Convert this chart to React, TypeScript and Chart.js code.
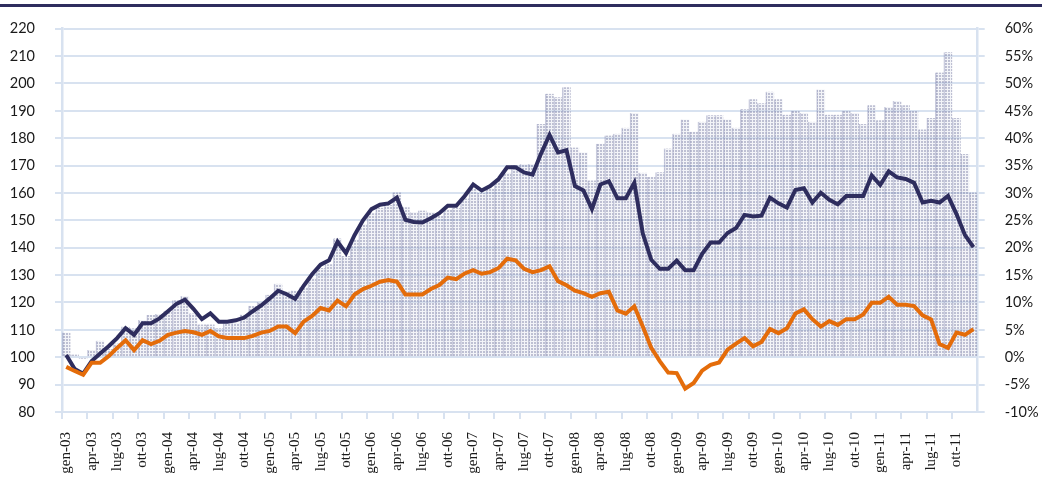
import React, { useEffect, useRef } from "react";
import { Chart, registerables } from "chart.js";

Chart.register(...registerables);

const MONTHS = ["gen", "feb", "mar", "apr", "mag", "giu", "lug", "ago", "set", "ott", "nov", "dic"];
const YEARS = ["03", "04", "05", "06", "07", "08", "09", "10", "11"];
const categories: string[] = YEARS.flatMap((y) => MONTHS.map((m) => `${m}-${y}`));

// Left axis (index) – dark line
const darkSeries = [
  100.8, 95.7, 94, 98.6, 101.4, 104, 107, 110.6, 108.2, 112.4, 112.4, 114.2,
  116.8, 119.5, 121, 117.7, 113.9, 116, 113, 113, 113.5, 114.5, 116.8, 118.9,
  121.5, 124.3, 123, 121.3, 126.1, 130.3, 133.8, 135.4, 142.2, 138, 144.6, 150,
  154.1, 155.7, 156.2, 158.3, 150.2, 149.4, 149.2, 150.8, 152.6, 155.3, 155.3, 158.9,
  163.1, 160.9, 162.5, 165.1, 169.4, 169.4, 167.5, 166.7, 174.4, 181.2, 174.8, 175.6,
  162.5, 160.9, 154.1, 163.1, 164.3, 158.1, 158.1, 163.7, 145.2, 135.6, 132.3, 132.3,
  135.3, 131.8, 131.8, 137.8, 141.9, 141.9, 145.4, 147.2, 152, 151.4, 151.7, 158.3,
  156.2, 154.7, 161.1, 161.7, 156.5, 160.1, 157.5, 155.9, 158.9, 158.9, 158.9, 166.4,
  162.9, 167.9, 165.7, 165.1, 163.7, 156.5, 157.1, 156.5, 158.9, 152.3, 144.6, 140.2,
];

// Left axis (index) – orange line
const orangeSeries = [
  96.5, 95, 93.6, 98, 98, 100.4, 103.4, 106.2, 102.6, 106.2, 104.8, 106,
  108.2, 109, 109.6, 109.1, 108.2, 109.6, 107.6, 107, 107, 107, 107.8, 109,
  109.6, 111.2, 111.2, 108.8, 113, 115.1, 118, 117.1, 120.7, 118.6, 122.9, 124.9,
  126.1, 127.6, 128.2, 127.6, 122.9, 122.9, 122.9, 124.9, 126.4, 129.1, 128.5, 130.6,
  131.8, 130.5, 131.1, 132.6, 136, 135.4, 132.3, 131.1, 131.8, 133.2, 127.8, 126.3,
  124.3, 123.4, 122.1, 123.4, 123.9, 117.1, 115.9, 118.6, 111.2, 103.4, 98.6, 94.4,
  94.2, 88.5, 90.6, 95.1, 97.2, 98.1, 102.8, 105, 107, 104, 105.6, 110.3,
  108.8, 110.6, 116, 117.5, 113.9, 111.2, 113.2, 111.8, 113.9, 113.9, 115.6, 119.9,
  119.9, 122.1, 119.2, 119.2, 118.7, 115.3, 113.8, 104.8, 103.4, 109, 108.2, 110.3,
];

// Right axis (%) – hatched bars
const barSeries = [
  4.5, 0.5, -0.3, 1.3, 3.0, 1.5, 2.5, 5.6, 5.3, 6.8, 7.7, 7.9,
  8.5, 10.4, 11.2, 8.0, 6.0, 6.0, 5.3, 6.2, 6.3, 7.8, 9.4, 10.1,
  11.4, 13.4, 12.0, 12.2, 12.8, 14.5, 16.3, 17.0, 21.7, 18.5, 21.5, 24.3,
  26.3, 27.3, 27.8, 30.1, 27.4, 26.5, 26.8, 26.5, 25.8, 27.0, 27.3, 29.0,
  30.8, 30.0, 30.8, 32.3, 33.7, 35.1, 35.3, 35.3, 42.6, 48.1, 47.5, 49.3,
  38.3, 37.4, 32.3, 39.0, 40.5, 40.8, 41.9, 44.6, 33.7, 32.9, 33.8, 38.1,
  40.8, 43.4, 41.2, 43.0, 44.2, 44.2, 43.4, 41.9, 45.3, 47.1, 46.4, 48.5,
  47.1, 44.3, 45.0, 44.6, 43.0, 48.9, 44.3, 44.3, 45.0, 44.6, 42.6, 46.0,
  43.3, 45.7, 46.8, 46.0, 45.0, 41.6, 43.7, 52.0, 55.7, 43.7, 37.1, 30.1,
];

const leftMin = 80;
const leftMax = 220;
const rightMin = -10;
const rightMax = 60;

const GRID = "#d8e2f0";
const DARK = "#2e2d5e";
const ORANGE = "#e46c0a";

function makePattern(): CanvasPattern | string {
  const c = document.createElement("canvas");
  c.width = 3;
  c.height = 3;
  const g = c.getContext("2d");
  if (!g) return "#d3d5e2";
  for (let x = 0; x < 3; x++) {
    for (let y = 0; y < 3; y++) {
      g.fillStyle = x === 2 || y === 2 ? "rgba(215,217,232,0.3)" : "rgba(125,130,168,0.5)";
      g.fillRect(x, y, 1, 1);
    }
  }
  const p = g.createPattern(c, "repeat");
  return p || "#d3d5e2";
}

export default function App() {
  const canvasRef = useRef<HTMLCanvasElement | null>(null);

  useEffect(() => {
    document.body.style.margin = "0";
    const canvas = canvasRef.current;
    if (!canvas) return;
    const pattern = makePattern();

    const chart = new Chart(canvas, {
      data: {
        labels: categories,
        datasets: [
          {
            type: "line",
            label: "orange",
            data: orangeSeries,
            yAxisID: "y",
            borderColor: ORANGE,
            borderWidth: 4,
            pointRadius: 0,
            tension: 0,
            order: 1,
          },
          {
            type: "line",
            label: "dark",
            data: darkSeries,
            yAxisID: "y",
            borderColor: DARK,
            borderWidth: 4,
            pointRadius: 0,
            tension: 0,
            order: 2,
          },
          {
            type: "bar",
            label: "bars",
            data: barSeries,
            yAxisID: "y2",
            backgroundColor: pattern as any,
            borderColor: "rgba(120,125,170,0.4)",
            borderWidth: { left: 1, right: 0, top: 0, bottom: 0 } as any,
            borderSkipped: false,
            barPercentage: 1,
            categoryPercentage: 1,
            order: 3,
          },
        ],
      },
      options: {
        animation: false,
        responsive: false,
        maintainAspectRatio: false,
        layout: { padding: { top: 21, left: 0, right: 0, bottom: 0 } },
        plugins: { legend: { display: false }, tooltip: { enabled: false }, title: { display: false } },
        scales: {
          x: {
            type: "category",
            offset: true,
            grid: {
              offset: true,
              drawOnChartArea: false,
              drawTicks: true,
              tickLength: 7,
              lineWidth: 2,
              color: (ctx: any) => (ctx.index !== undefined && ctx.index % 3 === 0 ? GRID : "rgba(0,0,0,0)"),
            },
            border: { display: true, color: GRID, width: 2 },
            ticks: {
              autoSkip: false,
              minRotation: 90,
              maxRotation: 90,
              padding: 13,
              color: "#1a1a1a",
              font: { family: "'Liberation Serif', serif", size: 15 },
              callback: (_v: any, i: number) => (i % 3 === 0 ? categories[i] : ""),
            },
            afterFit: (s: any) => {
              s.height = 68;
            },
          },
          y: {
            type: "linear",
            position: "left",
            min: leftMin,
            max: leftMax,
            grid: { color: GRID, lineWidth: 2, tickLength: 7, drawTicks: true },
            border: { display: true, color: GRID, width: 2.5 },
            ticks: {
              stepSize: 10,
              padding: 20,
              color: "#1a1a1a",
              font: { family: "Lato, sans-serif", size: 14.5 },
            },
            afterFit: (s: any) => {
              s.width = 62;
            },
          },
          y2: {
            type: "linear",
            position: "right",
            min: rightMin,
            max: rightMax,
            grid: { drawOnChartArea: false, color: GRID, lineWidth: 2, tickLength: 7, drawTicks: true },
            border: { display: true, color: GRID, width: 2.5 },
            ticks: {
              stepSize: 5,
              padding: 20,
              color: "#1a1a1a",
              font: { family: "Lato, sans-serif", size: 14.5 },
              callback: (v: any) => `${v}%`,
            },
            afterFit: (s: any) => {
              s.width = 64.3;
            },
          },
        },
      } as any,
    });

    return () => chart.destroy();
  }, []);

  return (
    <div style={{ position: "relative", width: 1042, height: 480, background: "#ffffff" }}>
      <canvas ref={canvasRef} width={1042} height={480} style={{ position: "absolute", left: 0, top: 0, width: 1042, height: 480 }} />
      <div style={{ position: "absolute", left: 0, top: 4, width: 1042, height: 3, background: DARK }} />
    </div>
  );
}
